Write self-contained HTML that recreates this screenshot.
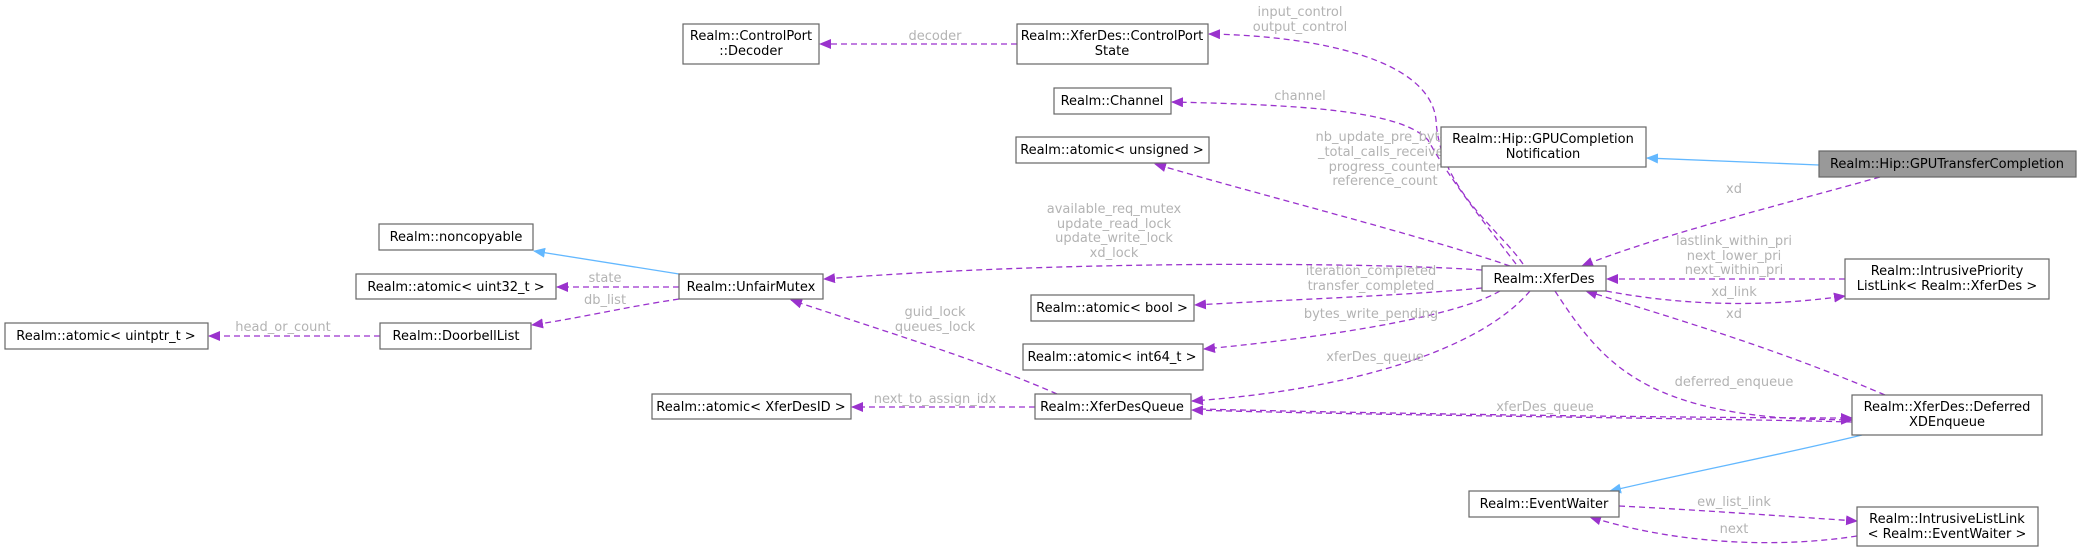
<!DOCTYPE html>
<html><head><meta charset="utf-8"><style>
html,body{margin:0;padding:0;background:#fff;}
svg{display:block;}
text{font-family:"DejaVu Sans","Liberation Sans",sans-serif;}
.n{font-size:13px;fill:#000;text-anchor:middle;}
.l{font-size:13px;fill:#b3b3b3;text-anchor:middle;}
.b{fill:#fff;stroke:#666;stroke-width:1.2;}
.p{fill:none;stroke:#9a32cd;stroke-width:1.3;stroke-dasharray:6,4;}
.u{fill:none;stroke:#63b8ff;stroke-width:1.3;}
</style></head><body>
<svg width="2081" height="552" viewBox="0 0 2081 552" xmlns="http://www.w3.org/2000/svg">
<defs>
<marker id="ap" markerUnits="userSpaceOnUse" markerWidth="12" markerHeight="10" refX="11" refY="5" orient="auto"><path d="M0,0 L12,5 L0,10 z" fill="#9a32cd"/></marker>
<marker id="ab" markerUnits="userSpaceOnUse" markerWidth="12" markerHeight="10" refX="11" refY="5" orient="auto"><path d="M0,0 L12,5 L0,10 z" fill="#63b8ff"/></marker>
</defs>

<path class="u" d="M1819,165 L1647,158" marker-end="url(#ab)"/>
<path class="p" d="M1880,177 C1780,205 1660,235 1582,266" marker-end="url(#ap)"/>
<path class="p" d="M1523,264 C1500,230 1440,190 1436,120 C1430,60 1320,36 1209,34" marker-end="url(#ap)"/>
<path class="p" d="M1516,264 C1490,230 1450,180 1428,140 C1400,110 1300,105 1172,102" marker-end="url(#ap)"/>
<path class="p" d="M1510,266 C1420,235 1260,195 1155,164" marker-end="url(#ap)"/>
<path class="p" d="M1482,270 C1400,264 1100,258 824,279" marker-end="url(#ap)"/>
<path class="p" d="M1482,288 C1400,296 1280,300 1195,305" marker-end="url(#ap)"/>
<path class="p" d="M1500,291 C1450,320 1300,340 1204,349" marker-end="url(#ap)"/>
<path class="p" d="M1530,291 C1480,350 1350,390 1192,401" marker-end="url(#ap)"/>
<path class="p" d="M1845,279 L1607,279" marker-end="url(#ap)"/>
<path class="p" d="M1606,291 C1680,305 1760,308 1845,296" marker-end="url(#ap)"/>
<path class="p" d="M1885,395 C1780,350 1680,320 1586,291" marker-end="url(#ap)"/>
<path class="p" d="M1555,291 C1600,360 1640,410 1800,419 L1852,420" marker-end="url(#ap)"/>
<path class="p" d="M1852,422 C1700,418 1400,416 1192,410" marker-end="url(#ap)"/>
<path class="p" d="M1200,409 C1400,414 1700,418 1852,418" marker-end="url(#ap)"/>
<path class="u" d="M1862,435 C1780,455 1700,470 1610,491" marker-end="url(#ab)"/>
<path class="p" d="M1619,506 C1700,510 1780,516 1857,521" marker-end="url(#ap)"/>
<path class="p" d="M1857,536 C1780,548 1680,545 1590,517" marker-end="url(#ap)"/>
<path class="p" d="M1057,394 C980,360 880,330 791,300" marker-end="url(#ap)"/>
<path class="p" d="M1035,407 L852,407" marker-end="url(#ap)"/>
<path class="u" d="M679,274 L534,251" marker-end="url(#ab)"/>
<path class="p" d="M679,287 L557,287" marker-end="url(#ap)"/>
<path class="p" d="M679,299 C620,308 580,318 532,325" marker-end="url(#ap)"/>
<path class="p" d="M380,336 L209,336" marker-end="url(#ap)"/>
<path class="p" d="M1017,44 L820,44" marker-end="url(#ap)"/>

<text class="l" x="935" y="40">decoder</text>
<text class="l" x="1300" y="16">input_control</text>
<text class="l" x="1300" y="31">output_control</text>
<text class="l" x="1300" y="100">channel</text>
<text class="l" x="1385" y="141">nb_update_pre_bytes</text>
<text class="l" x="1385" y="156">_total_calls_received</text>
<text class="l" x="1385" y="171">progress_counter</text>
<text class="l" x="1385" y="185">reference_count</text>
<text class="l" x="1114" y="213">available_req_mutex</text>
<text class="l" x="1114" y="228">update_read_lock</text>
<text class="l" x="1114" y="242">update_write_lock</text>
<text class="l" x="1114" y="257">xd_lock</text>
<text class="l" x="1371" y="275">iteration_completed</text>
<text class="l" x="1371" y="290">transfer_completed</text>
<text class="l" x="1371" y="318">bytes_write_pending</text>
<text class="l" x="1375" y="361">xferDes_queue</text>
<text class="l" x="935" y="316">guid_lock</text>
<text class="l" x="935" y="331">queues_lock</text>
<text class="l" x="935" y="403">next_to_assign_idx</text>
<text class="l" x="605" y="282">state</text>
<text class="l" x="605" y="304">db_list</text>
<text class="l" x="283" y="331">head_or_count</text>
<text class="l" x="1734" y="193">xd</text>
<text class="l" x="1734" y="245">lastlink_within_pri</text>
<text class="l" x="1734" y="260">next_lower_pri</text>
<text class="l" x="1734" y="274">next_within_pri</text>
<text class="l" x="1734" y="296">xd_link</text>
<text class="l" x="1734" y="318">xd</text>
<text class="l" x="1734" y="386">deferred_enqueue</text>
<text class="l" x="1545" y="411">xferDes_queue</text>
<text class="l" x="1734" y="506">ew_list_link</text>
<text class="l" x="1734" y="533">next</text>

<rect class="b" x="683" y="24" width="136" height="40"/>
<text class="n" x="751" y="40">Realm::ControlPort</text><text class="n" x="751" y="55">::Decoder</text>
<rect class="b" x="1017" y="24" width="191" height="40"/>
<text class="n" x="1112" y="40">Realm::XferDes::ControlPort</text><text class="n" x="1112" y="55">State</text>
<rect class="b" x="1054" y="88" width="117" height="26"/>
<text class="n" x="1112" y="105">Realm::Channel</text>
<rect class="b" x="1016" y="137" width="193" height="26"/>
<text class="n" x="1112" y="154">Realm::atomic&lt; unsigned &gt;</text>
<rect class="b" x="1441" y="127" width="205" height="40"/>
<text class="n" x="1543" y="143">Realm::Hip::GPUCompletion</text><text class="n" x="1543" y="158">Notification</text>
<rect x="1819" y="151" width="257" height="26" fill="#999" stroke="#666" stroke-width="1.2"/>
<text class="n" x="1947" y="168">Realm::Hip::GPUTransferCompletion</text>
<rect class="b" x="379" y="224" width="154" height="26"/>
<text class="n" x="456" y="241">Realm::noncopyable</text>
<rect class="b" x="356" y="274" width="200" height="25"/>
<text class="n" x="456" y="291">Realm::atomic&lt; uint32_t &gt;</text>
<rect class="b" x="679" y="274" width="144" height="25"/>
<text class="n" x="751" y="291">Realm::UnfairMutex</text>
<rect class="b" x="380" y="323" width="151" height="26"/>
<text class="n" x="456" y="340">Realm::DoorbellList</text>
<rect class="b" x="5" y="323" width="203" height="26"/>
<text class="n" x="106" y="340">Realm::atomic&lt; uintptr_t &gt;</text>
<rect class="b" x="1482" y="266" width="124" height="25"/>
<text class="n" x="1544" y="283">Realm::XferDes</text>
<rect class="b" x="1845" y="259" width="204" height="40"/>
<text class="n" x="1947" y="275">Realm::IntrusivePriority</text><text class="n" x="1947" y="290">ListLink&lt; Realm::XferDes &gt;</text>
<rect class="b" x="1031" y="295" width="163" height="26"/>
<text class="n" x="1112" y="312">Realm::atomic&lt; bool &gt;</text>
<rect class="b" x="1023" y="344" width="180" height="26"/>
<text class="n" x="1112" y="361">Realm::atomic&lt; int64_t &gt;</text>
<rect class="b" x="1035" y="394" width="156" height="25"/>
<text class="n" x="1112" y="411">Realm::XferDesQueue</text>
<rect class="b" x="652" y="394" width="199" height="25"/>
<text class="n" x="751" y="411">Realm::atomic&lt; XferDesID &gt;</text>
<rect class="b" x="1852" y="395" width="190" height="40"/>
<text class="n" x="1947" y="411">Realm::XferDes::Deferred</text><text class="n" x="1947" y="426">XDEnqueue</text>
<rect class="b" x="1469" y="491" width="150" height="26"/>
<text class="n" x="1544" y="508">Realm::EventWaiter</text>
<rect class="b" x="1857" y="507" width="181" height="39"/>
<text class="n" x="1947" y="523">Realm::IntrusiveListLink</text><text class="n" x="1947" y="538">&lt; Realm::EventWaiter &gt;</text>
</svg>
</body></html>
